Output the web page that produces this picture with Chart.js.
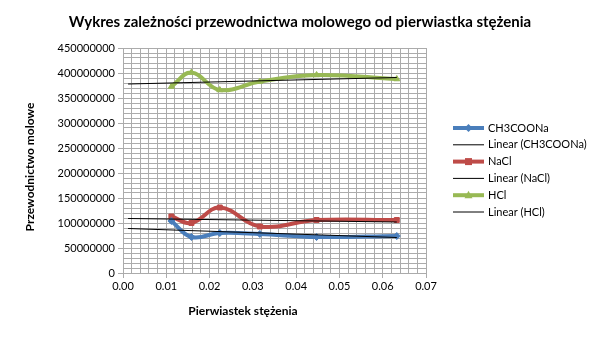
<!DOCTYPE html>
<html>
<head>
<meta charset="utf-8">
<script src="https://cdn.jsdelivr.net/npm/chart.js@4.4.0/dist/chart.umd.min.js"></script>
<style>
  html, body { margin: 0; padding: 0; background: #fff; }
  #wrap { width: 605px; height: 340px; }
</style>
</head>
<body>
<div id="wrap"><canvas id="wykres"></canvas></div>
<script>
// dane
var pierwiastek = [0.01118, 0.01581, 0.02236, 0.03162, 0.04472, 0.06325];
var ch3coona = [104000000, 72000000, 80000000, 78000000, 72000000, 74000000];
var nacl = [113000000, 100000000, 131000000, 93000000, 106000000, 106000000];
var hcl = [373000000, 401000000, 366000000, 383000000, 396000000, 388000000];

// linie trendu (poczatek i koniec)
var trendX = [0.00118, 0.06325];
var trendCH3COONa = [89000000, 71000000];
var trendNaCl = [109000000, 102000000];
var trendHCl = [378000000, 391000000];

var etykiety = ['CH3COONa', 'Linear (CH3COONa)', 'NaCl', 'Linear (NaCl)', 'HCl', 'Linear (HCl)'];
var tytul = 'Wykres zależności przewodnictwa molowego od pierwiastka stężenia';

function punkty(xs, ys) {
  return xs.map(function (x, i) { return { x: x, y: ys[i] }; });
}

var niebieski = '#4A7EBB';
var czerwony = '#BE4B48';
var zielony = '#98B954';
var siatka = '#ABABAB';

function seria(label, dane, kolor, styl) {
  return {
    label: label,
    data: punkty(pierwiastek, dane),
    borderColor: kolor,
    backgroundColor: kolor,
    borderWidth: 4,
    tension: 0.4,
    pointStyle: styl,
    pointRadius: 3.5,
    pointBorderWidth: 1,
    order: 2
  };
}

function trend(label, dane) {
  return {
    label: label,
    data: punkty(trendX, dane),
    borderColor: '#000000',
    backgroundColor: '#000000',
    borderWidth: 1,
    tension: 0,
    pointRadius: 0,
    order: 1
  };
}

// tytul, legenda i tytuly osi rysowane recznie
var dodatki = {
  id: 'dodatki',
  afterDraw: function (chart) {
    var ctx = chart.ctx;
    ctx.save();
    ctx.fillStyle = '#000';
    ctx.textAlign = 'center';
    ctx.textBaseline = 'middle';
    ctx.font = 'bold 15px Lato';
    ctx.fillText(tytul, 300, 22);
    ctx.font = 'bold 12px Lato';
    ctx.fillText('Pierwiastek stężenia', 243, 311);
    ctx.translate(30, 167);
    ctx.rotate(-Math.PI / 2);
    ctx.fillText('Przewodnictwo molowe', 0, 0);
    ctx.restore();

    ctx.save();
    ctx.font = '11px Lato';
    ctx.textAlign = 'left';
    ctx.textBaseline = 'middle';
    chart.data.datasets.forEach(function (ds, i) {
      var y = 128 + i * 16.8;
      ctx.strokeStyle = ds.borderColor;
      ctx.lineWidth = ds.borderWidth;
      ctx.beginPath();
      ctx.moveTo(453, y);
      ctx.lineTo(484, y);
      ctx.stroke();
      if (ds.pointRadius > 0) {
        ctx.fillStyle = ds.borderColor;
        ctx.beginPath();
        if (ds.pointStyle === 'rectRot') {
          ctx.moveTo(468.5, y - 4); ctx.lineTo(472.5, y); ctx.lineTo(468.5, y + 4); ctx.lineTo(464.5, y);
        } else if (ds.pointStyle === 'rect') {
          ctx.rect(465, y - 3.5, 7, 7);
        } else {
          ctx.moveTo(468.5, y - 4.5); ctx.lineTo(472.5, y + 3); ctx.lineTo(464.5, y + 3);
        }
        ctx.closePath();
        ctx.fill();
      }
      ctx.fillStyle = '#000';
      ctx.fillText(ds.label, 488, y);
    });
    ctx.restore();
  }
};

var ctx = document.getElementById('wykres').getContext('2d');
var myChart = new Chart(ctx, {
  type: 'line',
  data: {
    datasets: [
      seria(etykiety[0], ch3coona, niebieski, 'rectRot'),
      trend(etykiety[1], trendCH3COONa),
      seria(etykiety[2], nacl, czerwony, 'rect'),
      trend(etykiety[3], trendNaCl),
      seria(etykiety[4], hcl, zielony, 'triangle'),
      trend(etykiety[5], trendHCl)
    ]
  },
  plugins: [dodatki],
  options: {
    responsive: true,
    maintainAspectRatio: false,
    animation: false,
    layout: { padding: { left: 0, right: 179, top: 48, bottom: 0 } },
    plugins: {
      legend: { display: false },
      tooltip: { enabled: false },
      title: { display: false }
    },
    scales: {
      x: {
        type: 'linear',
        min: 0,
        max: 0.07,
        afterFit: function (s) { s.height = 67; },
        border: { color: siatka },
        grid: { color: siatka, tickLength: 5, tickColor: function (c) {
          return Math.round(c.tick.value / 0.002) % 5 === 0 ? siatka : 'rgba(0,0,0,0)';
        } },
        ticks: {
          stepSize: 0.002,
          autoSkip: false,
          maxRotation: 0,
          padding: 2,
          color: '#000',
          font: { family: 'Lato', size: 11 },
          callback: function (v) {
            return Math.round(v / 0.002) % 5 === 0 ? v.toFixed(2) : '';
          }
        }
      },
      y: {
        min: 0,
        max: 450000000,
        afterFit: function (s) { s.width = 123; },
        border: { color: siatka },
        grid: { color: siatka, tickLength: 5, tickColor: function (c) {
          return Math.round(c.tick.value / 10000000) % 5 === 0 ? siatka : 'rgba(0,0,0,0)';
        } },
        ticks: {
          stepSize: 10000000,
          autoSkip: false,
          padding: 3,
          color: '#000',
          font: { family: 'Lato', size: 11 },
          callback: function (v) {
            return Math.round(v / 10000000) % 5 === 0 ? String(v) : '';
          }
        }
      }
    },
    elements: {
      line: { cubicInterpolationMode: 'default' }
    }
  }
});
</script>
</body>
</html>
